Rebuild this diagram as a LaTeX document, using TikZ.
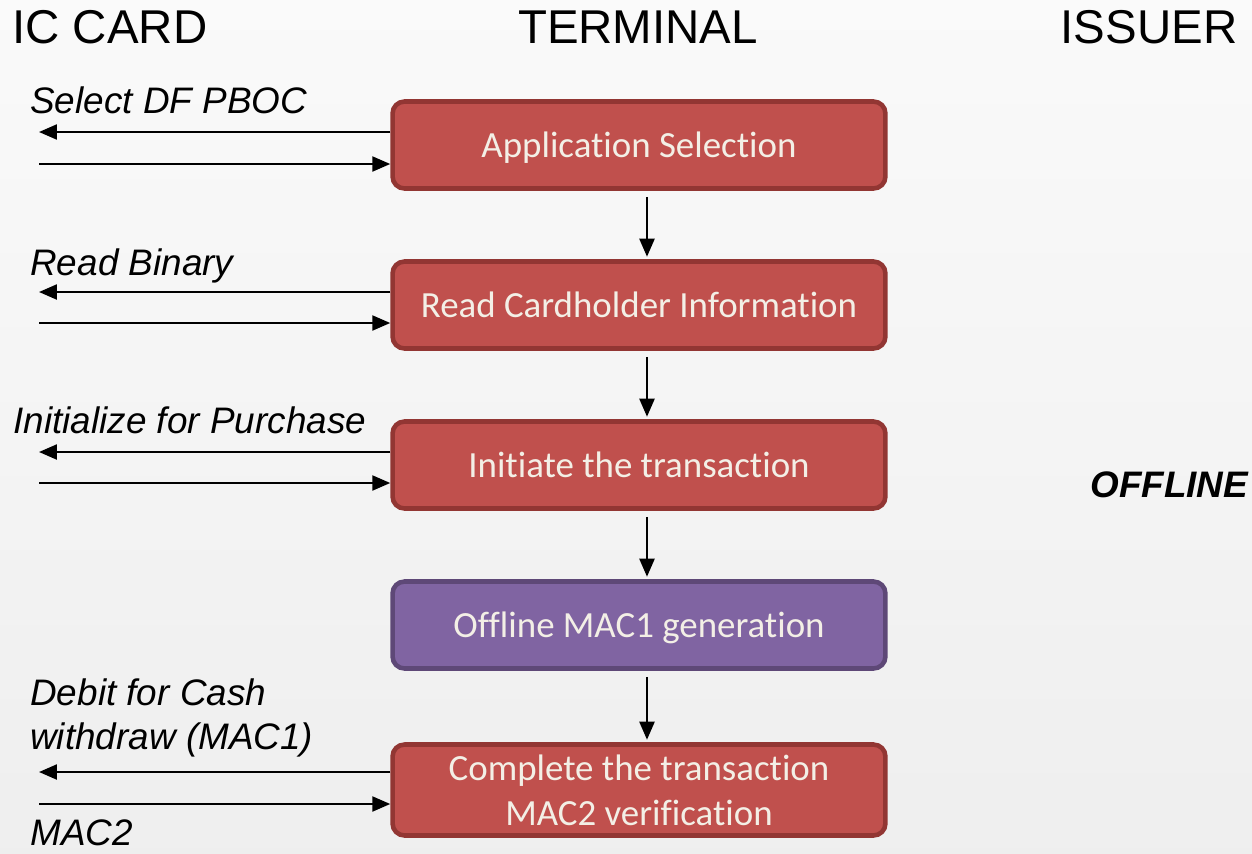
\documentclass[tikz,border=0pt]{standalone}
\usepackage{fontspec}
\setmainfont{Liberation Sans}
\newfontfamily\boxfont[Ligatures={NoCommon}]{Carlito}
\usetikzlibrary{arrows.meta}
\definecolor{stepred}{HTML}{C0504D}
\definecolor{stepredline}{HTML}{923633}
\definecolor{steppurple}{HTML}{8064A2}
\definecolor{steppurpleline}{HTML}{5E4877}
\definecolor{steptext}{HTML}{F3EFE6}
\tikzset{
  stepframe/.style={draw=stepredline, fill=stepred, line width=2.6pt, rounded corners=0.24cm,
    minimum width=9.86cm, minimum height=1.74cm, inner sep=0pt, align=center,
    text=steptext, font=\boxfont\fontsize{21}{25.5}\selectfont},
  stepbox/.style={stepframe, text height=13.8pt, text depth=0pt},
  macbox/.style={stepbox, draw=steppurpleline, fill=steppurple},
  party/.style={font=\fontsize{27}{32}\selectfont, anchor=base, inner sep=0pt},
  msg/.style={font=\itshape\fontsize{21}{25}\selectfont, anchor=base west, inner sep=0pt, align=left},
  flow/.style={-{Triangle[length=0.36cm,width=0.3cm]}, line width=1.3pt},
}

\begin{document}
\begin{tikzpicture}[x=0.02cm,y=-0.02cm]
  \shade[top color=gray!4, bottom color=gray!13] (0,0) rectangle (1252,853);
  \useasboundingbox (0,0) rectangle (1252,853);

  % column heads
  \node[party, anchor=base west] (card) at (12,43) {IC CARD};
  \node[party] (terminal) at (638,43) {TERMINAL};
  \node[party] (issuer) at (1149,43) {ISSUER};
  \node[font=\bfseries\itshape\fontsize{21}{25}\selectfont, anchor=base west, inner sep=0pt] (offline) at (1090,497) {OFFLINE};

  % terminal steps
  \node[stepbox] (appsel) at (639,145) {Application Selection};
  \node[stepbox] (readinfo) at (639,305) {Read Cardholder Information};
  \node[stepbox] (inittx) at (639,465) {Initiate the transaction};
  \node[macbox] (macgen) at (639,625) {Offline MAC1 generation};
  \node[stepframe, minimum height=1.82cm] (complete) at (639,790) {Complete the transaction\\MAC2 verification};

  \draw[flow, shorten <=0.12cm, shorten >=0.05cm] ([xshift=0.16cm]appsel.south) -- ([xshift=0.16cm]readinfo.north);
  \draw[flow, shorten <=0.12cm, shorten >=0.05cm] ([xshift=0.16cm]readinfo.south) -- ([xshift=0.16cm]inittx.north);
  \draw[flow, shorten <=0.12cm, shorten >=0.05cm] ([xshift=0.16cm]inittx.south) -- ([xshift=0.16cm]macgen.north);
  \draw[flow, shorten <=0.12cm, shorten >=0.05cm] ([xshift=0.16cm]macgen.south) -- ([xshift=0.16cm]complete.north);

  % card commands
  \node[msg] (selcmd) at (30,113) {Select DF PBOC};
  \coordinate (selout) at (39,132);
  \coordinate (selin) at (39,164);
  \draw[flow] (appsel.west |- selout) -- (selout);
  \draw[flow] (selin) -- (appsel.west |- selin);

  \node[msg] (readcmd) at (30,275) {Read Binary};
  \coordinate (readout) at (39,292);
  \coordinate (readin) at (39,323);
  \draw[flow] (readinfo.west |- readout) -- (readout);
  \draw[flow] (readin) -- (readinfo.west |- readin);

  \node[msg] (initcmd) at (13,433) {Initialize for Purchase};
  \coordinate (initout) at (39,452);
  \coordinate (initin) at (39,483);
  \draw[flow] (inittx.west |- initout) -- (initout);
  \draw[flow] (initin) -- (inittx.west |- initin);

  \node[msg] (debitcmd) at (30,749) {Debit for Cash\\withdraw (MAC1)};
  \node[msg] (macreply) at (30,845) {MAC2};
  \coordinate (debitout) at (39,772);
  \coordinate (debitin) at (39,804);
  \draw[flow] (complete.west |- debitout) -- (debitout);
  \draw[flow] (debitin) -- (complete.west |- debitin);
\end{tikzpicture}
\end{document}
